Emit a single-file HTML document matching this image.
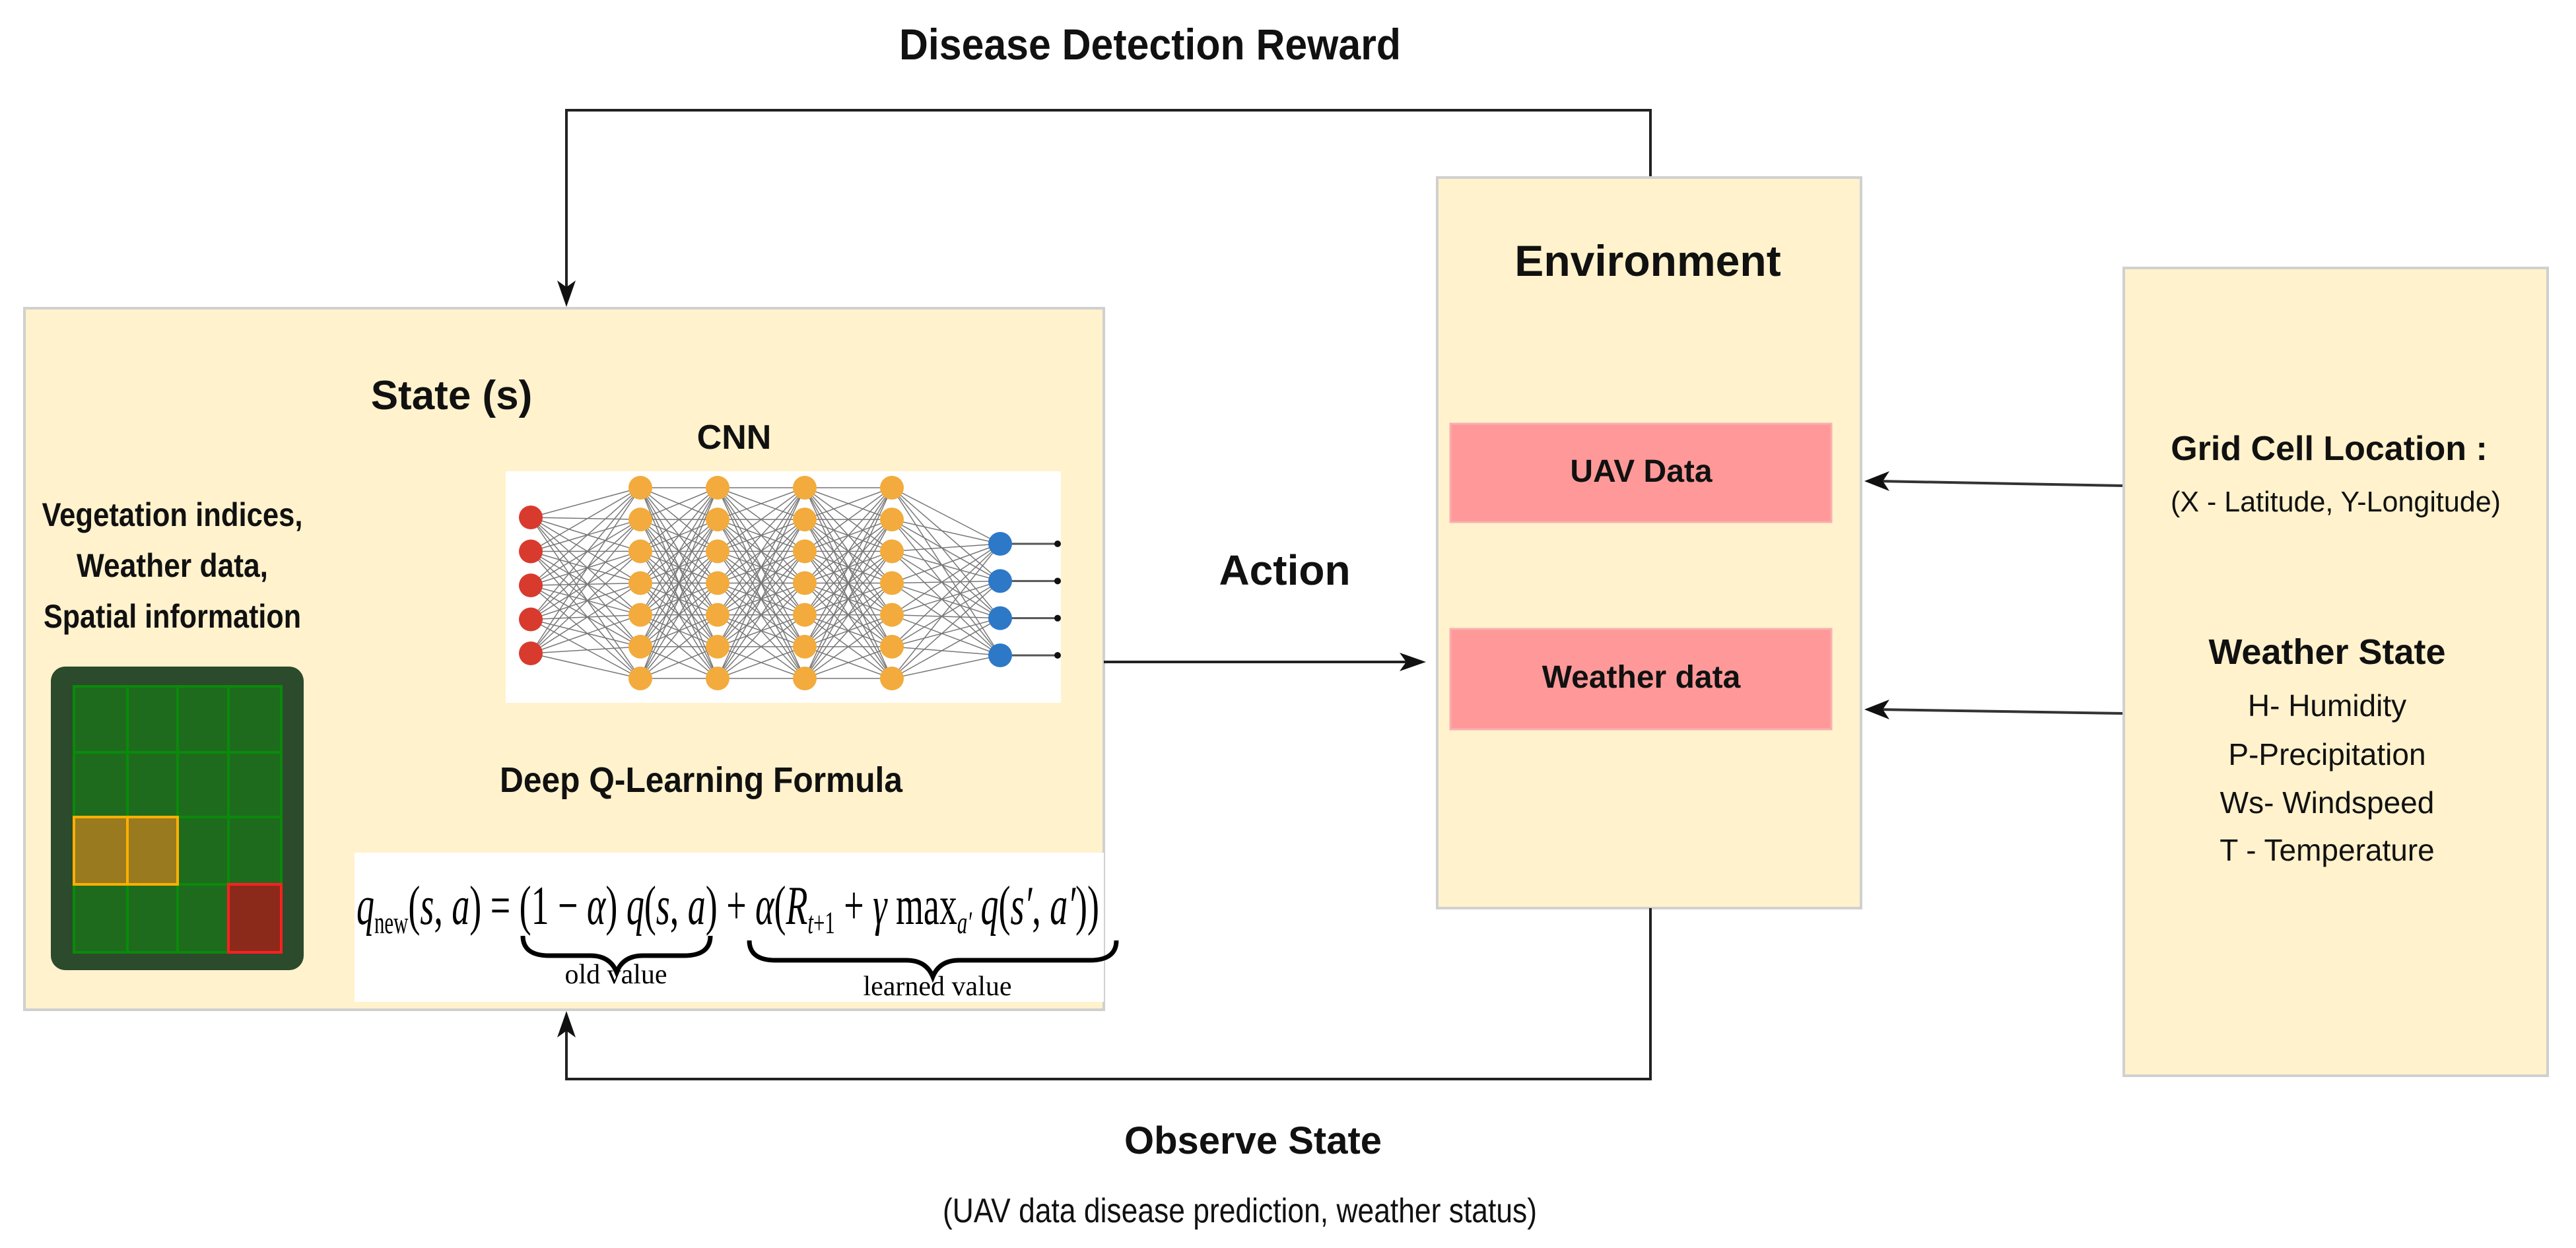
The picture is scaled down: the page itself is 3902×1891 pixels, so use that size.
<!DOCTYPE html>
<html><head><meta charset="utf-8"><style>
html,body{margin:0;padding:0;background:#fff;}
svg{display:block;}
.b{font-family:"Liberation Sans Narrow","Liberation Sans",sans-serif;font-weight:bold;fill:#111;}
.n{font-family:"Liberation Sans Narrow","Liberation Sans",sans-serif;fill:#111;}
.m{font-family:"Liberation Serif",serif;fill:#000;}
.ah{fill:#111}
</style></head><body>
<svg id="s" width="3902" height="1891" viewBox="0 0 3902 1891" xmlns="http://www.w3.org/2000/svg">
<text class="b" x="1742" y="90" font-size="66" text-anchor="middle" textLength="760" lengthAdjust="spacingAndGlyphs">Disease Detection Reward</text>
<polyline points="2500,269 2500,167 858,167 858,440" fill="none" stroke="#222" stroke-width="4"/>
<path class="ah" d="M858,465 L844,425 L858,435 L872,425 z"/>
<rect x="37" y="467" width="1635" height="1063" fill="#fff2cc" stroke="#d0d0d0" stroke-width="4"/>
<text class="b" x="684" y="620" font-size="62" text-anchor="middle">State (s)</text>
<text class="b" x="1112" y="680" font-size="52" text-anchor="middle">CNN</text>
<text class="b" x="261" y="797" font-size="50" text-anchor="middle" textLength="395" lengthAdjust="spacingAndGlyphs">Vegetation indices,</text>
<text class="b" x="261" y="874" font-size="50" text-anchor="middle" textLength="290" lengthAdjust="spacingAndGlyphs">Weather data,</text>
<text class="b" x="261" y="951" font-size="50" text-anchor="middle" textLength="390" lengthAdjust="spacingAndGlyphs">Spatial information</text>
<rect x="77" y="1010" width="383" height="460" rx="22" fill="#2c4a2c"/>
<g stroke="#0a8a0a" stroke-width="4" fill="#1e6b1e">
<rect x="112" y="1040" width="81" height="100"/><rect x="193" y="1040" width="76" height="100"/><rect x="269" y="1040" width="77" height="100"/><rect x="346" y="1040" width="80" height="100"/>
<rect x="112" y="1140" width="81" height="98"/><rect x="193" y="1140" width="76" height="98"/><rect x="269" y="1140" width="77" height="98"/><rect x="346" y="1140" width="80" height="98"/>
<rect x="269" y="1238" width="77" height="102"/><rect x="346" y="1238" width="80" height="102"/>
<rect x="112" y="1340" width="81" height="103"/><rect x="193" y="1340" width="76" height="103"/><rect x="269" y="1340" width="77" height="103"/>
</g>
<rect x="346" y="1340" width="80" height="103" fill="#8b2a1a" stroke="#ff2020" stroke-width="4"/>
<rect x="112" y="1238" width="81" height="102" fill="#9a7a1e" stroke="#ffb000" stroke-width="4"/>
<rect x="193" y="1238" width="76" height="102" fill="#9a7a1e" stroke="#ffb000" stroke-width="4"/>
<rect x="766" y="714" width="841" height="351" fill="#fff"/>
<g id="cnn"></g>
<text class="b" x="1062" y="1200" font-size="54" text-anchor="middle" textLength="610" lengthAdjust="spacingAndGlyphs">Deep Q-Learning Formula</text>
<rect x="537" y="1292" width="1135" height="226" fill="#fff"/>
<text class="m" x="540" y="1400" font-size="84" textLength="1125" lengthAdjust="spacingAndGlyphs"><tspan font-style="italic">q</tspan><tspan font-size="48" dy="14">new</tspan><tspan dy="-14">(</tspan><tspan font-style="italic">s</tspan>, <tspan font-style="italic">a</tspan>) = (1 − <tspan font-style="italic">α</tspan>) <tspan font-style="italic">q</tspan>(<tspan font-style="italic">s</tspan>, <tspan font-style="italic">a</tspan>) + <tspan font-style="italic">α</tspan>(<tspan font-style="italic">R</tspan><tspan font-size="48" dy="14" font-style="italic">t</tspan><tspan font-size="48">+1</tspan><tspan dy="-14"> + </tspan><tspan font-style="italic">γ</tspan> max<tspan font-size="48" dy="14" font-style="italic">a′</tspan><tspan dy="-14"> </tspan><tspan font-style="italic">q</tspan>(<tspan font-style="italic">s′</tspan>, <tspan font-style="italic">a′</tspan>))</text>
<path d="M792,1418 q0,30 40,30 h62 q30,0 40,25 q10,-25 40,-25 h62 q40,0 40,-30" fill="none" stroke="#000" stroke-width="7"/>
<path d="M1135,1425 q0,30 40,30 h198 q30,0 40,25 q10,-25 40,-25 h198 q40,0 40,-30" fill="none" stroke="#000" stroke-width="7"/>
<text class="m" x="933" y="1490" font-size="42" text-anchor="middle">old value</text>
<text class="m" x="1420" y="1508" font-size="42" text-anchor="middle">learned value</text>
<line x1="1672" y1="1003" x2="2140" y2="1003" stroke="#222" stroke-width="4"/>
<path class="ah" d="M2160,1003 L2120,989 L2130,1003 L2120,1017 z"/>
<text class="b" x="1946" y="886" font-size="64" text-anchor="middle">Action</text>
<rect x="2177" y="269" width="642" height="1107" fill="#fff2cc" stroke="#d0d0d0" stroke-width="4"/>
<text class="b" x="2496" y="418" font-size="66" text-anchor="middle">Environment</text>
<rect x="2197" y="642" width="577" height="149" fill="#ff9999" stroke="#f8b0b0" stroke-width="3"/>
<text class="b" x="2486" y="730" font-size="48" text-anchor="middle">UAV Data</text>
<rect x="2197" y="953" width="577" height="152" fill="#ff9999" stroke="#f8b0b0" stroke-width="3"/>
<text class="b" x="2486" y="1042" font-size="48" text-anchor="middle">Weather data</text>
<line x1="3217" y1="736" x2="2845" y2="729" stroke="#333" stroke-width="4"/>
<path class="ah" d="M2824,729 L2862,714 L2852,729 L2862,744 z"/>
<line x1="3217" y1="1081" x2="2845" y2="1075" stroke="#333" stroke-width="4"/>
<path class="ah" d="M2824,1075 L2862,1060 L2852,1075 L2862,1090 z"/>
<rect x="3217" y="406" width="642" height="1224" fill="#fff2cc" stroke="#d0d0d0" stroke-width="4"/>
<text class="b" x="3528" y="697" font-size="52" text-anchor="middle">Grid Cell Location :</text>
<text class="n" x="3538" y="775" font-size="44" text-anchor="middle" textLength="500" lengthAdjust="spacingAndGlyphs">(X - Latitude, Y-Longitude)</text>
<text class="b" x="3525" y="1006" font-size="54" text-anchor="middle">Weather State</text>
<text class="n" x="3525" y="1085" font-size="46" text-anchor="middle">H- Humidity</text>
<text class="n" x="3525" y="1159" font-size="46" text-anchor="middle">P-Precipitation</text>
<text class="n" x="3525" y="1232" font-size="46" text-anchor="middle">Ws- Windspeed</text>
<text class="n" x="3525" y="1304" font-size="46" text-anchor="middle">T - Temperature</text>
<polyline points="2500,1376 2500,1635 858,1635 858,1555" fill="none" stroke="#222" stroke-width="4"/>
<path class="ah" d="M858,1532 L844,1572 L858,1562 L872,1572 z"/>
<text class="b" x="1898" y="1748" font-size="58" text-anchor="middle">Observe State</text>
<text class="n" x="1878" y="1852" font-size="52" text-anchor="middle" textLength="900" lengthAdjust="spacingAndGlyphs">(UAV data disease prediction, weather status)</text>
</svg>
<script>
(function(){
var g=document.getElementById('cnn'),ns='http://www.w3.org/2000/svg';
function col(x,n,y0,y1){var a=[];for(var i=0;i<n;i++)a.push([x,y0+(y1-y0)*i/(n-1)]);return a;}
var L=[col(804,5,784,990),col(970,7,739,1028),col(1087,7,739,1028),col(1219,7,739,1028),col(1351,7,739,1028),col(1515,4,824,993)];
var cs=['#d93a2e','#f2ab3c','#f2ab3c','#f2ab3c','#f2ab3c','#2e78c8'];
function ln(a,b,c,d,s,w){var l=document.createElementNS(ns,'line');l.setAttribute('x1',a);l.setAttribute('y1',b);l.setAttribute('x2',c);l.setAttribute('y2',d);l.setAttribute('stroke',s);l.setAttribute('stroke-width',w);g.appendChild(l);}
for(var k=0;k<L.length-1;k++)L[k].forEach(function(p){L[k+1].forEach(function(q){ln(p[0],p[1],q[0],q[1],'#777','1.5');});});
L[5].forEach(function(p){ln(p[0],p[1],1602,p[1],'#555','3');var d=document.createElementNS(ns,'circle');d.setAttribute('cx',1602);d.setAttribute('cy',p[1]);d.setAttribute('r',5);d.setAttribute('fill','#111');g.appendChild(d);});
L.forEach(function(c,k){c.forEach(function(p){var e=document.createElementNS(ns,'circle');e.setAttribute('cx',p[0]);e.setAttribute('cy',p[1]);e.setAttribute('r',18);e.setAttribute('fill',cs[k]);g.appendChild(e);});});
})();
</script>
</body></html>
